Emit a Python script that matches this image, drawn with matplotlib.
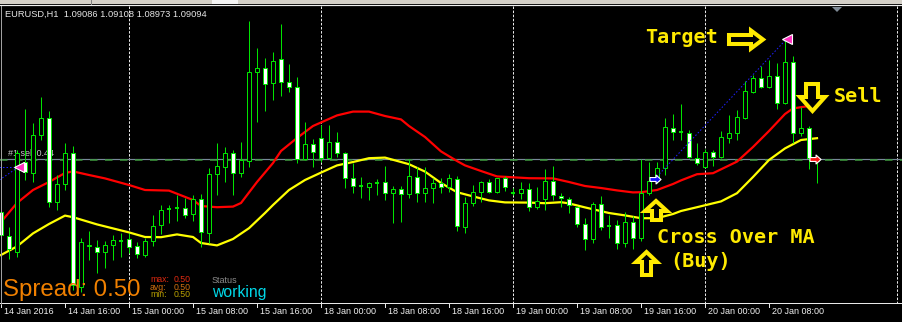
import matplotlib
matplotlib.use("Agg")
import matplotlib.pyplot as plt
from matplotlib.patches import Rectangle, Polygon
from matplotlib.transforms import Affine2D, blended_transform_factory

# ---------------- data ----------------
symbol = "EURUSD,H1"
last_ohlc = ["1.09086", "1.09108", "1.08973", "1.09094"]

open_ = [1.08829, 1.08709, 1.08629, 1.09079, 1.09024, 1.09214, 1.09299, 1.08879, 1.08969, 1.09124,
         1.08454, 1.08659, 1.08654, 1.08629, 1.08664, 1.08684, 1.08694, 1.08659, 1.08614, 1.08684,
         1.08764, 1.08844, 1.08849, 1.08849, 1.08819, 1.08894, 1.08724, 1.09019, 1.09054, 1.09124,
         1.09024, 1.09084, 1.09529, 1.09549, 1.09474, 1.09594, 1.09479, 1.09454, 1.09094, 1.09169,
         1.09199, 1.09099, 1.09179, 1.09124, 1.08999, 1.08959, 1.08954, 1.08974, 1.08979, 1.08924,
         1.08944, 1.08919, 1.09004, 1.08924, 1.08949, 1.08974, 1.08954, 1.08994, 1.08754, 1.08874,
         1.08929, 1.08979, 1.08929, 1.08999, 1.08924, 1.08924, 1.08944, 1.08854, 1.08894, 1.08984,
         1.08909, 1.08894, 1.08854, 1.08769, 1.08694, 1.08869, 1.08759, 1.08764, 1.08674, 1.08779,
         1.08699, 1.08924, 1.08984, 1.09049, 1.09249, 1.09229, 1.09224, 1.09099, 1.09054, 1.09129,
         1.09104, 1.09199, 1.09224, 1.09299, 1.09429, 1.09499, 1.09454, 1.09509, 1.09374, 1.09579,
         1.09224, 1.09249, 1.09086]

high_ = [1.08854, 1.08754, 1.09139, 1.09344, 1.09274, 1.09404, 1.09334, 1.09014, 1.09174, 1.09159,
         1.08699, 1.08734, 1.08689, 1.08684, 1.08714, 1.08724, 1.08724, 1.08679, 1.08699, 1.08814,
         1.08864, 1.08864, 1.08914, 1.08899, 1.08914, 1.08919, 1.09049, 1.09174, 1.09154, 1.09139,
         1.09179, 1.09784, 1.09649, 1.09599, 1.09629, 1.09769, 1.09569, 1.09504, 1.09279, 1.09194,
         1.09264, 1.09264, 1.09229, 1.09129, 1.09074, 1.09004, 1.08979, 1.08994, 1.09059, 1.08959,
         1.08959, 1.09094, 1.09054, 1.09054, 1.08999, 1.08999, 1.09019, 1.09009, 1.08904, 1.08964,
         1.08984, 1.08994, 1.08999, 1.09009, 1.08949, 1.08979, 1.08974, 1.08954, 1.09044, 1.09059,
         1.08924, 1.08904, 1.08859, 1.08799, 1.08879, 1.08909, 1.08814, 1.08789, 1.08829, 1.08809,
         1.09094, 1.09079, 1.09079, 1.09299, 1.09319, 1.09369, 1.09239, 1.09174, 1.09144, 1.09139,
         1.09234, 1.09314, 1.09339, 1.09484, 1.09514, 1.09559, 1.09589, 1.09574, 1.09694, 1.09609,
         1.09354, 1.09259, 1.09108]

low_ = [1.08664, 1.08594, 1.08604, 1.08989, 1.08979, 1.09189, 1.08854, 1.08839, 1.08939, 1.08439,
        1.08429, 1.08589, 1.08524, 1.08549, 1.08589, 1.08604, 1.08624, 1.08599, 1.08604, 1.08659,
        1.08719, 1.08774, 1.08784, 1.08799, 1.08784, 1.08654, 1.08674, 1.08914, 1.08979, 1.08914,
        1.09004, 1.09054, 1.09279, 1.09334, 1.09389, 1.09409, 1.09429, 1.09074, 1.09089, 1.09054,
        1.09079, 1.09094, 1.09104, 1.08949, 1.08924, 1.08899, 1.08889, 1.08914, 1.08889, 1.08774,
        1.08779, 1.08899, 1.08879, 1.08879, 1.08874, 1.08924, 1.08929, 1.08734, 1.08724, 1.08859,
        1.08879, 1.08924, 1.08924, 1.08934, 1.08914, 1.08894, 1.08834, 1.08844, 1.08839, 1.08889,
        1.08854, 1.08824, 1.08754, 1.08639, 1.08674, 1.08739, 1.08699, 1.08644, 1.08654, 1.08644,
        1.08684, 1.08914, 1.08974, 1.09014, 1.09189, 1.09189, 1.09099, 1.09064, 1.09049, 1.09059,
        1.09099, 1.09174, 1.09189, 1.09294, 1.09424, 1.09449, 1.09449, 1.09344, 1.09369, 1.09174,
        1.09209, 1.09044, 1.08973]

close_ = [1.08714, 1.08644, 1.09124, 1.09029, 1.09214, 1.09299, 1.08879, 1.08969, 1.09124, 1.08464,
          1.08679, 1.08664, 1.08629, 1.08664, 1.08689, 1.08684, 1.08654, 1.08619, 1.08684, 1.08759,
          1.08839, 1.08844, 1.08849, 1.08814, 1.08894, 1.08729, 1.09019, 1.09059, 1.09124, 1.09024,
          1.09089, 1.09529, 1.09549, 1.09469, 1.09584, 1.09479, 1.09454, 1.09094, 1.09169, 1.09129,
          1.09099, 1.09179, 1.09124, 1.08999, 1.08959, 1.08959, 1.08974, 1.08974, 1.08924, 1.08944,
          1.08919, 1.09009, 1.08924, 1.08949, 1.08974, 1.08954, 1.08999, 1.08759, 1.08874, 1.08929,
          1.08979, 1.08929, 1.08999, 1.08954, 1.08924, 1.08944, 1.08854, 1.08884, 1.08984, 1.08914,
          1.08899, 1.08864, 1.08769, 1.08694, 1.08869, 1.08754, 1.08759, 1.08674, 1.08779, 1.08699,
          1.08924, 1.08984, 1.09049, 1.09254, 1.09229, 1.09229, 1.09104, 1.09074, 1.09129, 1.09104,
          1.09204, 1.09224, 1.09304, 1.09434, 1.09499, 1.09454, 1.09509, 1.09374, 1.09579, 1.09224,
          1.09249, 1.09099, 1.09094]

red_idx = [0, 2, 4, 6, 8, 9, 11, 13, 16, 18, 21, 24, 25, 27, 29, 30, 32, 34, 35, 37, 39, 42, 44, 46, 48,
           50, 51, 53, 55, 57, 58, 60, 62, 66, 69, 71, 73, 75, 77, 79, 80, 82, 84, 85, 87, 89, 92, 94,
           96, 98, 99, 101, 102]
red_ma = [1.08779, 1.08874, 1.08939, 1.08979, 1.09024, 1.09032, 1.09014, 1.08997, 1.08964, 1.08939,
          1.08936, 1.08889, 1.08859, 1.08853, 1.08856, 1.08874, 1.08979, 1.09074, 1.09134, 1.09199,
          1.09259, 1.09312, 1.09331, 1.09331, 1.09309, 1.09292, 1.09259, 1.09204, 1.09132, 1.09084,
          1.09062, 1.09034, 1.09007, 1.08998, 1.08997, 1.08979, 1.08959, 1.08949, 1.08937, 1.08927,
          1.08928, 1.08939, 1.08969, 1.08987, 1.09018, 1.09023, 1.09081, 1.09154, 1.09234, 1.09319,
          1.09347, 1.09359, 1.09364]

yel_idx = [0, 2, 4, 6, 8, 9, 12, 16, 18, 20, 22, 24, 25, 27, 29, 31, 33, 34, 36, 38, 40, 42, 44, 46, 48,
           50, 51, 53, 55, 57, 59, 61, 63, 66, 68, 70, 71, 73, 76, 78, 80, 82, 84, 85, 87, 90, 92, 94,
           96, 98, 100, 102]
yel_ma = [1.08614, 1.08657, 1.08722, 1.08769, 1.08811, 1.08803, 1.08767, 1.08727, 1.08704, 1.08703,
          1.08717, 1.08704, 1.08674, 1.08662, 1.08694, 1.08748, 1.08824, 1.08864, 1.08939, 1.08989,
          1.09026, 1.09062, 1.09079, 1.09098, 1.09101, 1.09079, 1.09068, 1.09031, 1.08974, 1.08928,
          1.08907, 1.08887, 1.08877, 1.08876, 1.08873, 1.08878, 1.08872, 1.08852, 1.08824, 1.08812,
          1.08798, 1.08798, 1.08819, 1.08834, 1.08853, 1.08882, 1.08923, 1.09004, 1.09089, 1.09147,
          1.09189, 1.09198]

tick_bars = [0, 8, 16, 24, 32, 40, 48, 56, 64, 72, 80, 88, 96]
tick_labels = ["14 Jan 2016", "14 Jan 16:00", "15 Jan 00:00", "15 Jan 08:00", "15 Jan 16:00",
               "18 Jan 00:00", "18 Jan 08:00", "18 Jan 16:00", "19 Jan 00:00", "19 Jan 08:00",
               "19 Jan 16:00", "20 Jan 00:00", "20 Jan 08:00"]
day_sep_bars = [16, 40, 64, 88, 112]

bid_price = 1.09094
order_price = 1.09089
order_label = "#1 sell 0.44"
prev_line_start = (-0.2, 1.08989)
prev_close = (2.2, 1.09054)
buy_mark = (81.7, 1.08994)
target_mark = (98.2, 1.09694)
sell_mark = (101.8, 1.09094)

spread_value = 0.50
spread_stats = [("max:", 0.50), ("avg:", 0.50), ("min:", 0.50)]
status_text = "working"

# ---------------- figure ----------------
W, H, DPI = 902, 322, 100
PX = 72.0 / DPI
fig = plt.figure(figsize=(W / DPI, H / DPI), dpi=DPI, facecolor="black")
ax = fig.add_axes([0, 0, 1, 1])
ax.set_facecolor("black")
ax.set_axis_off()
# 8 px per bar, 0.5 pip per pixel
ax.set_xlim(-1 / 8, (W - 1) / 8)
ax.set_ylim(1.09889 - H * 5e-5, 1.09889)

pix = Affine2D().scale(1.0 / W, -1.0 / H).translate(0, 1) + fig.transFigure
xdata_ypix = blended_transform_factory(ax.transData, pix)

GREEN = "#00e400"
YEL = "#ffea00"

# top band
ax.add_patch(Rectangle((0, 0), W, 4.5, transform=pix, facecolor="#d4d0c8", edgecolor="none", zorder=20))
ax.add_patch(Rectangle((212, 0), 26, 4, transform=pix, facecolor="#f4f4f4", edgecolor="none", zorder=21))
ax.plot([90.5, 90.5], [0, 4.5], transform=pix, color="#808080", lw=PX, zorder=21)
ax.plot([0, W], [5.5, 5.5], transform=pix, color="#f0f0f0", lw=PX * 1.2, zorder=21)
ax.add_patch(Polygon([(832, 7), (842, 7), (837, 12)], closed=True, transform=pix,
                     facecolor="#7f8a96", edgecolor="none", zorder=21))
ax.plot([0.5, 0.5], [6, 304], transform=pix, color="#a0a0a0", lw=PX, zorder=21)

# day separators
for b in day_sep_bars:
    ax.plot([b, b], [6, 303.5], transform=xdata_ypix, color="#e8e8e8", lw=PX,
            linestyle=(0, (2.5, 1.6)), zorder=1)

# bottom axis
ax.plot([0, W], [303.5, 303.5], transform=pix, color="#e8e8e8", lw=PX, zorder=20)
for b, lab in zip(tick_bars, tick_labels):
    ax.plot([b, b], [303.5, 307], transform=xdata_ypix, color="#e8e8e8", lw=PX, zorder=20)
    ax.text(b + 2.5 / 8, 312, lab, transform=xdata_ypix, color="#f0f0f0", fontsize=6.5,
            family="Liberation Sans", ha="left", va="center", zorder=20)

# header
fig.text(5 / W, 1 - 14 / H, symbol + "  " + " ".join(last_ohlc), color="#e6e6e6",
         fontsize=6.7, family="Liberation Sans", ha="left", va="center")

# bid line and order line
ax.axhline(bid_price, color="#778899", lw=PX * 1.2, zorder=2)
ax.axhline(order_price, color="#3c9a3c", lw=PX * 1.5, linestyle=(0, (5, 5)), zorder=2)
ax.text(7 / 8, order_price + 0.00035, order_label, color="#c8c8c8", fontsize=6.5,
        family="Liberation Sans", ha="left", va="center", zorder=2)

# moving averages
ax.plot(red_idx, red_ma, color="#ff0000", lw=1.6, zorder=5, solid_joinstyle="round")
ax.plot(yel_idx, yel_ma, color="#ffff00", lw=1.6, zorder=5, solid_joinstyle="round")

# candles
for i, (o, h, l, c) in enumerate(zip(open_, high_, low_, close_)):
    ax.plot([i, i], [l, h], color=GREEN, lw=PX, solid_capstyle="butt", zorder=6)
    lo, hi = min(o, c), max(o, c)
    if hi - lo < 1e-6:
        ax.plot([i - 0.3, i + 0.3], [o, o], color=GREEN, lw=PX * 2, solid_capstyle="butt", zorder=7)
    else:
        ax.add_patch(Rectangle((i - 0.28, lo), 0.56, hi - lo,
                               facecolor="white" if c < o else "black",
                               edgecolor=GREEN, lw=PX, zorder=7))

# trade lines (dotted blue)
ax.plot([prev_line_start[0], prev_close[0]], [prev_line_start[1], prev_close[1]],
        color="#2020ff", lw=PX, linestyle=(0, (1.5, 2)), zorder=8)
ax.plot([prev_line_start[0], prev_close[0]], [prev_close[1], prev_close[1]],
        color="#2020ff", lw=PX, linestyle=(0, (1.5, 2)), zorder=8)
ax.plot([buy_mark[0], target_mark[0]], [buy_mark[1], target_mark[1]],
        color="#2020ff", lw=PX, linestyle=(0, (1.5, 2)), zorder=8)

# markers
arrow_r = [(-1, -0.35), (0.1, -0.35), (0.1, -0.8), (1, 0), (0.1, 0.8), (0.1, 0.35), (-1, 0.35), (-1, -0.35)]
ax.plot(*prev_close, marker="<", ms=6.5, color="#ff30c0", mec="white", mew=0.8, zorder=10)
ax.plot(*target_mark, marker="<", ms=6.5, color="#ff30c0", mec="white", mew=0.8, zorder=10)
ax.plot(*buy_mark, marker=arrow_r, ms=8, color="#1010ff", mec="white", mew=0.8, zorder=10)
ax.plot(*sell_mark, marker=arrow_r, ms=8, color="#ff1010", mec="white", mew=0.8, zorder=10)

# yellow block arrows (annotation layout in pixels)
arrows = [
    [(729, 35), (751, 35), (751, 30.5), (763, 39.5), (751, 48.5), (751, 44), (729, 44)],
    [(806, 84), (818, 84), (818, 97), (825, 97), (812.5, 111), (800, 97), (806, 97)],
    [(656, 201), (667, 211), (661, 211), (661, 220), (652, 220), (652, 211), (645, 211)],
    [(646.5, 252), (657, 262), (651, 262), (651, 275), (642, 275), (642, 262), (636, 262)],
]
for pts in arrows:
    ax.add_patch(Polygon(pts, closed=True, transform=pix, facecolor="black", edgecolor=YEL,
                         lw=2.9, joinstyle="miter", zorder=11))

mono = dict(family="DejaVu Sans Mono", weight="bold", color=YEL, fontsize=14.5,
            ha="left", va="baseline")
fig.text(645 / W, 1 - 43 / H, "Target", **mono)
fig.text(834 / W, 1 - 102 / H, "Sell", **mono)
fig.text(657 / W, 1 - 243 / H, "Cross Over MA", **mono)
fig.text(670 / W, 1 - 267 / H, "(Buy)", **mono)

# spread panel
fig.text(3 / W, 1 - 296 / H, "Spread: %.2f" % spread_value, color="#f08000", fontsize=17.3,
         family="Liberation Sans", ha="left", va="baseline")
stat_colors = ["#e02a10", "#d07010", "#b8a000"]
for k, ((name, val), col) in enumerate(zip(spread_stats, stat_colors)):
    yy = 280 + 7.2 * k
    fig.text(150 / W, 1 - yy / H, name, color=col, fontsize=6.3, family="Liberation Sans",
             ha="left", va="center")
    fig.text(174 / W, 1 - yy / H, "%.2f" % val, color=col, fontsize=6.3, family="Liberation Sans",
             ha="left", va="center")
fig.text(212 / W, 1 - 280.5 / H, "Status", color="#8c8c8c", fontsize=6.5,
         family="Liberation Sans", ha="left", va="center")
fig.text(212 / W, 1 - 297.5 / H, status_text, color="#00d8e8", fontsize=11.3,
         family="Liberation Sans", ha="left", va="baseline")

fig.savefig("out.png", dpi=DPI, facecolor="black")
